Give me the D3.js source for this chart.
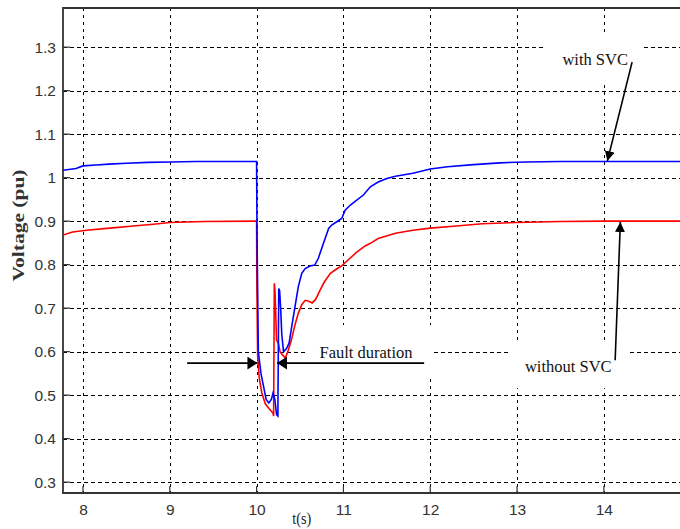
<!DOCTYPE html>
<html>
<head>
<meta charset="utf-8">
<script src="https://cdn.jsdelivr.net/npm/d3@7/dist/d3.min.js"></script>
<style>
  html, body { margin: 0; padding: 0; background: #fff; }
  svg { display: block; }
</style>
</head>
<body>
<svg id="chart" width="680" height="529"></svg>
<script>
// Bus voltage (pu) over time (s), with and without the SVC
const timeWithSVC = [7.77, 7.92, 8.0, 8.15, 8.3, 8.5, 8.75, 9.0, 9.3, 9.99,
  10.0, 10.005, 10.02, 10.05, 10.08, 10.11, 10.14, 10.17, 10.19, 10.21, 10.23, 10.245, 10.255, 10.265,
  10.277, 10.29, 10.31, 10.345, 10.375, 10.404, 10.442, 10.48, 10.52, 10.56, 10.615, 10.67, 10.71,
  10.77, 10.83, 10.865, 10.92, 10.98, 11.02, 11.08, 11.15, 11.23, 11.31, 11.4, 11.5, 11.6, 11.8,
  12.0, 12.2, 12.5, 12.8, 13.1, 13.5, 14.0, 14.9];
const voltageWithSVC = [1.017, 1.021, 1.027, 1.029, 1.031, 1.033, 1.035, 1.036, 1.037, 1.037,
  1.037, 0.864, 0.60, 0.55, 0.52, 0.49, 0.482, 0.49, 0.505, 0.49, 0.455, 0.452, 0.745, 0.74,
  0.70, 0.64, 0.60, 0.607, 0.62, 0.657, 0.703, 0.749, 0.78, 0.791, 0.797, 0.799, 0.814,
  0.849, 0.883, 0.891, 0.898, 0.906, 0.925, 0.937, 0.948, 0.96, 0.979, 0.99, 0.998, 1.003, 1.01,
  1.02, 1.025, 1.03, 1.034, 1.036, 1.037, 1.037, 1.037];

const timeWithoutSVC = [7.77, 7.88, 8.04, 8.31, 8.58, 8.81, 9.0, 9.4, 9.99,
  10.0, 10.003, 10.012, 10.03, 10.06, 10.1, 10.14, 10.17, 10.19, 10.196, 10.204, 10.212, 10.23,
  10.25, 10.27, 10.3, 10.33, 10.36, 10.4, 10.44, 10.48, 10.52, 10.56, 10.6, 10.64, 10.68, 10.73,
  10.78, 10.85, 10.92, 10.98, 11.05, 11.15, 11.25, 11.31, 11.4, 11.6, 11.8, 12.0, 12.3, 12.6,
  13.0, 13.5, 14.0, 14.9];
const voltageWithoutSVC = [0.868, 0.875, 0.879, 0.884, 0.889, 0.893, 0.897, 0.899, 0.9,
  0.9, 0.753, 0.59, 0.54, 0.505, 0.48, 0.47, 0.463, 0.458, 0.452, 0.757, 0.74, 0.626,
  0.62, 0.60, 0.592, 0.586, 0.60, 0.626, 0.66, 0.688, 0.708, 0.718, 0.716, 0.712, 0.72, 0.741,
  0.76, 0.78, 0.79, 0.797, 0.81, 0.828, 0.843, 0.849, 0.86, 0.872, 0.879, 0.884, 0.889, 0.894,
  0.897, 0.899, 0.9, 0.9];

const xTicks = [8, 9, 10, 11, 12, 13, 14];
const yTicks = [0.3, 0.4, 0.5, 0.6, 0.7, 0.8, 0.9, 1, 1.1, 1.2, 1.3];

const svg = d3.select("#chart");
const plot = { left: 63, right: 682, top: 8, bottom: 493 };

const x = d3.scaleLinear().domain([7.77, 14.9]).range([plot.left, plot.right]);
const y = d3.scaleLinear().domain([0.275, 1.39]).range([plot.bottom, plot.top]);

svg.append("defs").append("clipPath").attr("id", "plot-clip")
  .append("rect")
  .attr("x", plot.left).attr("y", plot.top)
  .attr("width", plot.right - plot.left).attr("height", plot.bottom - plot.top);

// dashed grid
const grid = svg.append("g").attr("stroke", "#000").attr("stroke-width", 1.2)
  .attr("stroke-dasharray", "4,3").attr("shape-rendering", "crispEdges");
grid.selectAll("line.h").data(yTicks).join("line").attr("class", "h")
  .attr("x1", plot.left).attr("x2", plot.right)
  .attr("y1", d => Math.round(y(d)) + 0.5).attr("y2", d => Math.round(y(d)) + 0.5);
grid.selectAll("line.v").data(xTicks).join("line").attr("class", "v")
  .attr("y1", plot.top).attr("y2", plot.bottom)
  .attr("x1", d => Math.round(x(d)) + 0.5).attr("x2", d => Math.round(x(d)) + 0.5)
  .attr("stroke-dasharray", "3,4");

// white label boxes that interrupt the grid
const boxes = [
  { t0: 10.56, t1: 12.02, v0: 0.539, v1: 0.661 },
  { t0: 12.92, t1: 14.28, v0: 0.516, v1: 0.622 },
  { t0: 13.32, t1: 14.44, v0: 1.22, v1: 1.332 }
];
svg.append("g").selectAll("rect").data(boxes).join("rect")
  .attr("x", d => x(d.t0)).attr("width", d => x(d.t1) - x(d.t0))
  .attr("y", d => y(d.v1)).attr("height", d => y(d.v0) - y(d.v1))
  .attr("fill", "#fff");

// axes
const axisColor = "#333";
const xAxis = d3.axisBottom(x).tickValues(xTicks).tickSize(0).tickPadding(11)
  .tickFormat(d3.format("d"));
const gx = svg.append("g").attr("transform", `translate(0,${plot.bottom})`).call(xAxis);
const yAxis = d3.axisLeft(y).tickValues(yTicks).tickSize(0).tickPadding(7)
  .tickFormat(d => d === 1 ? "1" : d3.format(".1f")(d));
const gy = svg.append("g").attr("transform", `translate(${plot.left},0)`).call(yAxis);
[gx, gy].forEach(g => {
  g.select(".domain").remove();
  g.selectAll("text").attr("fill", axisColor)
    .style("font-family", "Arial, 'Liberation Sans', sans-serif").style("font-size", "15.5px");
});

// inward tick marks
svg.append("g").attr("stroke", axisColor).attr("stroke-width", 1.2)
  .selectAll("line").data(xTicks).join("line")
  .attr("x1", d => x(d)).attr("x2", d => x(d))
  .attr("y1", plot.bottom).attr("y2", plot.bottom - 7);
svg.append("g").attr("stroke", axisColor).attr("stroke-width", 1.2)
  .selectAll("line").data(yTicks).join("line")
  .attr("y1", d => y(d)).attr("y2", d => y(d))
  .attr("x1", plot.left).attr("x2", plot.left + 7);

// frame
svg.append("path")
  .attr("d", `M${plot.right},${plot.top}H${plot.left}V${plot.bottom}H${plot.right}`)
  .attr("fill", "none").attr("stroke", axisColor).attr("stroke-width", 1.8);

// voltage traces
const line = d3.line().x(d => x(d[0])).y(d => y(d[1]));
const traces = svg.append("g").attr("clip-path", "url(#plot-clip)");
traces.append("path")
  .datum(d3.zip(timeWithoutSVC, voltageWithoutSVC))
  .attr("d", line).attr("fill", "none").attr("stroke", "#ff0000").attr("stroke-width", 1.6);
traces.append("path")
  .datum(d3.zip(timeWithSVC, voltageWithSVC))
  .attr("d", line).attr("fill", "none").attr("stroke", "#0000ff").attr("stroke-width", 1.6);

// annotations
const defs = svg.select("defs");
defs.append("marker").attr("id", "head")
  .attr("viewBox", "0 0 10 10").attr("refX", 10).attr("refY", 5)
  .attr("markerWidth", 10).attr("markerHeight", 10)
  .attr("markerUnits", "userSpaceOnUse").attr("orient", "auto")
  .append("path").attr("d", "M0,0L10,5L0,10Z").attr("fill", "#000");
defs.append("marker").attr("id", "head-wide")
  .attr("viewBox", "0 0 10 10").attr("refX", 10).attr("refY", 5)
  .attr("markerWidth", 10).attr("markerHeight", 13)
  .attr("markerUnits", "userSpaceOnUse").attr("orient", "auto")
  .attr("preserveAspectRatio", "none")
  .append("path").attr("d", "M0,0L10,5L0,10Z").attr("fill", "#000");

const arrows = [
  { from: [9.2, 0.5736], to: [10.01, 0.5736], head: "head-wide" },
  { from: [11.93, 0.5736], to: [10.235, 0.5736], head: "head-wide" },
  { from: [14.325, 1.2655], to: [14.04, 1.038], head: "head" },
  { from: [14.13, 0.58], to: [14.19, 0.898], head: "head" }
];
svg.append("g").selectAll("line").data(arrows).join("line")
  .attr("x1", d => x(d.from[0])).attr("y1", d => y(d.from[1]))
  .attr("x2", d => x(d.to[0])).attr("y2", d => y(d.to[1]))
  .attr("stroke", "#000").attr("stroke-width", 1.6)
  .attr("marker-end", d => `url(#${d.head})`);

const notes = [
  { text: "Fault duration", t: 11.26, v: 0.585 },
  { text: "without SVC", t: 13.59, v: 0.553 },
  { text: "with SVC", t: 13.9, v: 1.259 }
];
svg.append("g").selectAll("text").data(notes).join("text")
  .attr("x", d => x(d.t)).attr("y", d => y(d.v))
  .attr("text-anchor", "middle")
  .style("font-family", "'Times New Roman', 'Liberation Serif', serif")
  .style("font-size", "16.5px").attr("fill", "#111")
  .text(d => d.text);

// axis titles
svg.append("text")
  .attr("x", x(10.52)).attr("y", 524)
  .attr("text-anchor", "middle")
  .attr("textLength", 19).attr("lengthAdjust", "spacingAndGlyphs")
  .style("font-family", "'Times New Roman', 'Liberation Serif', serif")
  .style("font-size", "17px").attr("fill", "#222")
  .text("t(s)");
svg.append("text")
  .attr("transform", `translate(24,${y(0.89)}) rotate(-90)`)
  .attr("text-anchor", "middle")
  .attr("textLength", 112).attr("lengthAdjust", "spacingAndGlyphs")
  .style("font-family", "'Times New Roman', 'Liberation Serif', serif")
  .style("font-size", "16px").style("font-weight", "bold").attr("fill", "#333")
  .text("Voltage (pu)");
</script>
</body>
</html>
